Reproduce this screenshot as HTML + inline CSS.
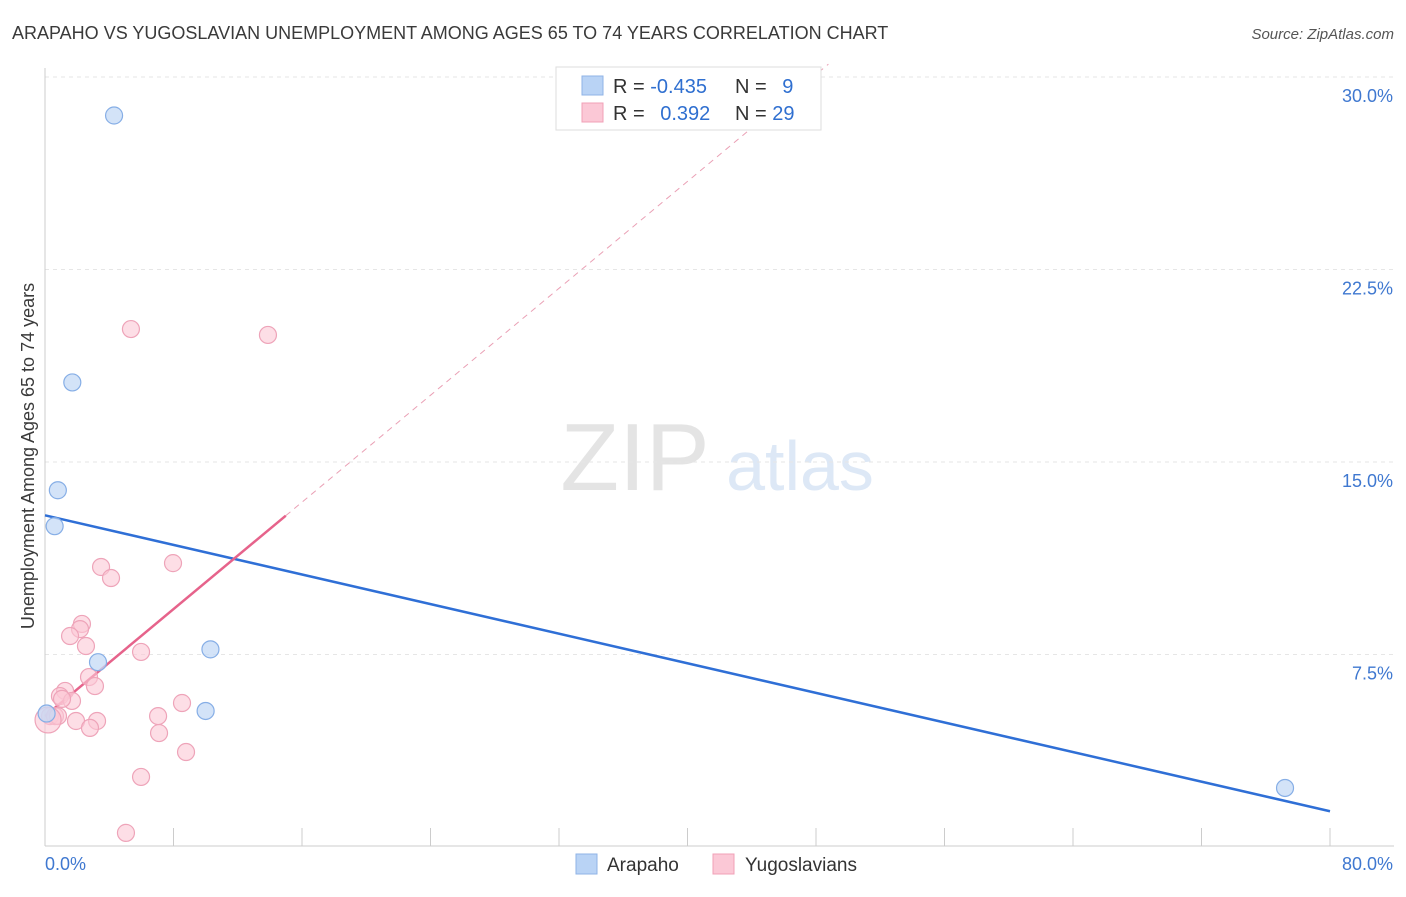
<!DOCTYPE html>
<html><head><meta charset="utf-8">
<style>
body{margin:0;background:#fff;font-family:"Liberation Sans",sans-serif;}
svg text{font-family:"Liberation Sans",sans-serif;}
</style></head>
<body>
<svg id="chart" width="1406" height="892" xmlns="http://www.w3.org/2000/svg">
<text x="12" y="39" font-size="18" fill="#3a3a3a">ARAPAHO VS YUGOSLAVIAN UNEMPLOYMENT AMONG AGES 65 TO 74 YEARS CORRELATION CHART</text>
<text x="1394" y="39" font-size="15" fill="#555" text-anchor="end" font-style="italic">Source: ZipAtlas.com</text>
<text transform="translate(34,456) rotate(-90)" font-size="18" fill="#3a3a3a" text-anchor="middle">Unemployment Among Ages 65 to 74 years</text>
<g>
<text x="635" y="490" font-size="96" fill="#e4e4e4" text-anchor="middle" font-family="Liberation Serif">ZIP</text>
<text x="800" y="490" font-size="70" fill="#dde8f6" text-anchor="middle">atlas</text>
</g>
<g id="grid"></g>
<g id="axes"></g>
<g id="lines"></g>
<g id="points"></g>
<g>
<rect x="556" y="67" width="265" height="63" fill="#fff" stroke="#ddd"/>
<rect x="582" y="76" width="21" height="19" fill="#b9d3f5" stroke="#8fb3e6"/>
<rect x="582" y="103" width="21" height="19" fill="#fbc8d6" stroke="#f0a0b7"/>
<text x="613" y="93" font-size="20" fill="#333">R = <tspan fill="#2f6fd0">-0.435</tspan></text>
<text x="735" y="93" font-size="20" fill="#333">N = <tspan fill="#2f6fd0" dx="10">9</tspan></text>
<text x="613" y="120" font-size="20" fill="#333">R = <tspan fill="#2f6fd0" dx="10">0.392</tspan></text>
<text x="735" y="120" font-size="20" fill="#333">N = <tspan fill="#2f6fd0">29</tspan></text>
</g>
<g>
<rect x="576" y="854" width="21" height="20" fill="#b9d3f5" stroke="#8fb3e6"/>
<text x="607" y="871" font-size="19" fill="#333">Arapaho</text>
<rect x="713" y="854" width="21" height="20" fill="#fbc8d6" stroke="#f0a0b7"/>
<text x="745" y="871" font-size="19" fill="#333">Yugoslavians</text>
</g>
</svg>
<script>
const arapahoX=[4.3,1.7,0.8,0.6,3.3,10.3,10.0,0.1,77.2];
const arapahoY=[28.5,18.1,13.9,12.5,7.2,7.7,5.3,5.2,2.3];
const yugoX=[5.35,13.88,3.49,4.11,7.97,2.30,2.18,1.56,2.55,5.98,2.74,3.11,1.25,0.93,1.68,1.06,0.31,0.62,0.81,1.93,3.24,2.80,7.04,7.10,8.53,8.78,5.98,5.04,0.19];
const yugoY=[20.18,19.95,10.91,10.48,11.06,8.69,8.49,8.22,7.83,7.60,6.62,6.27,6.08,5.88,5.69,5.77,5.10,5.10,5.10,4.91,4.91,4.64,5.10,4.44,5.61,3.70,2.73,0.55,4.95];
const yTicks=[7.5,15.0,22.5,30.0];
const yTickLabels=["7.5%","15.0%","22.5%","30.0%"];
const xTicks=[0,8,16,24,32,40,48,56,64,72,80];
const NS="http://www.w3.org/2000/svg";
const sx=v=>45+v/80*1285;
const sy=v=>847-v/7.5*192.5;
function mk(tag,attrs,parent){const e=document.createElementNS(NS,tag);for(const k in attrs)e.setAttribute(k,attrs[k]);parent.appendChild(e);return e;}
const grid=document.getElementById('grid'),axes=document.getElementById('axes'),lines=document.getElementById('lines'),pts=document.getElementById('points');
yTicks.forEach((t,i)=>{
 const g=mk('line',{x1:45,x2:1394,y1:sy(t),y2:sy(t),stroke:'#e6e6e6','stroke-dasharray':'4,4'},grid);
 
 
 const tx=mk('text',{x:1393,y:sy(t)+25,'font-size':18,fill:'#3f78d0','text-anchor':'end'},axes);
 tx.textContent=yTickLabels[i];
 
 
});
const xa=mk('line',{x1:45,x2:1394,y1:846,y2:846,stroke:'#ccc'},axes);


const ya=mk('line',{x1:45,x2:45,y1:68,y2:846,stroke:'#ccc'},axes);


xTicks.forEach(t=>{
 const l=mk('line',{x1:sx(t),x2:sx(t),y1:828,y2:846,stroke:'#ccc'},axes);
 
 
});
const x0=mk('text',{x:45,y:870,'font-size':18,fill:'#3f78d0'},axes);x0.textContent='0.0%';


const x1=mk('text',{x:1393,y:870,'font-size':18,fill:'#3f78d0','text-anchor':'end'},axes);x1.textContent='80.0%';


function fit(X,Y){const n=X.length;let mx=0,my=0;for(let i=0;i<n;i++){mx+=X[i];my+=Y[i];}mx/=n;my/=n;let sxy=0,sxx=0;for(let i=0;i<n;i++){sxy+=(X[i]-mx)*(Y[i]-my);sxx+=(X[i]-mx)**2;}const b=sxy/sxx;return [my-b*mx,b];}
const [ab,bb]=fit(arapahoX,arapahoY);
const bl=mk('line',{x1:sx(0),y1:sy(ab),x2:sx(80),y2:sy(ab+bb*80),stroke:'#2f6fd6','stroke-width':2.5},lines);


const [ay,by]=fit(yugoX,yugoY);
const xmax=Math.max(...yugoX)*1.08;
const xTop=(30.5-ay)/by;
const pd=mk('line',{x1:sx(xmax),y1:sy(ay+by*xmax),x2:sx(xTop),y2:sy(ay+by*xTop),stroke:'#eaa0b5','stroke-width':1,'stroke-dasharray':'6,5'},lines);


const ps=mk('line',{x1:sx(0),y1:sy(ay),x2:sx(xmax),y2:sy(ay+by*xmax),stroke:'#e6638b','stroke-width':2.5},lines);


yugoX.forEach((v,i)=>{
 const c=mk('circle',{cx:sx(v),cy:sy(yugoY[i]),r:i===yugoX.length-1?13:8.5,fill:'#fbc8d6','fill-opacity':0.6,stroke:'#eea4b9','stroke-width':1.2},pts);
 
 
});
arapahoX.forEach((v,i)=>{
 const c=mk('circle',{cx:sx(v),cy:sy(arapahoY[i]),r:8.5,fill:'#c4daf6','fill-opacity':0.75,stroke:'#86aee6','stroke-width':1.2},pts);
 
 
});
</script>
</body></html>
